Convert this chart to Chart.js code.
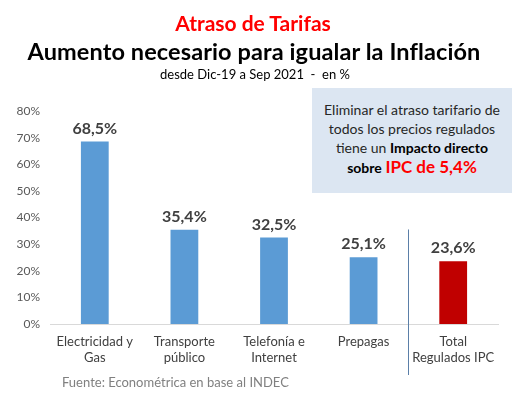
<!DOCTYPE html>
<html>
<head>
<meta charset="utf-8">
<script src="https://cdn.jsdelivr.net/npm/chart.js@4/dist/chart.umd.min.js"></script>
<style>
  html, body { margin: 0; padding: 0; background: #ffffff; }
  #wrap { position: relative; width: 514px; height: 396px; overflow: hidden; font-family: Lato, "Open Sans", sans-serif; }
  #chart { position: absolute; left: 0; top: 0; }
  .t { position: absolute; left: 0; width: 514px; text-align: center; white-space: nowrap; }
  #t1 { top: 10px; left: -4px; font-size: 21px; font-weight: bold; color: #ff0000; }
  #t2 { top: 37px; left: -3px; font-size: 23.5px; font-weight: bold; color: #000000; letter-spacing: 0.1px; }
  #t3 { top: 66px; left: -2px; font-size: 13px; color: #000000; }
  #box { position: absolute; left: 312px; top: 88px; width: 200px; height: 105px; background: #dce6f2; text-align: center; color: #262626; font-size: 14px; line-height: 19px; box-sizing: border-box; padding-top: 12px; }
  #box .big { font-size: 17px; color: #ff0000; font-weight: bold; }
  #box b { color: #000; }
  #foot { position: absolute; left: 62px; top: 374px; font-size: 13px; color: #808080; white-space: nowrap; }
</style>
</head>
<body>
<div id="wrap">
  <canvas id="chart" width="514" height="396"></canvas>
  <div class="t" id="t1">Atraso de Tarifas</div>
  <div class="t" id="t2">Aumento necesario para igualar la Inflación</div>
  <div class="t" id="t3">desde Dic-19 a Sep 2021&nbsp;&nbsp;-&nbsp;&nbsp;en %</div>
  <div id="box">Eliminar el atraso tarifario de<br>todos los precios regulados<br>tiene un <b>Impacto directo</b><br><b>sobre</b> <span class="big">IPC de 5,4%</span></div>
  <div id="foot">Fuente: Econométrica en base al INDEC</div>
</div>
<script>
const categories = [["Electricidad y", "Gas"], ["Transporte", "público"], ["Telefonía e", "Internet"], ["Prepagas"], ["Total", "Regulados IPC"]];
const values = [68.5, 35.4, 32.5, 25.1, 23.6];
const valueLabels = ["68,5%", "35,4%", "32,5%", "25,1%", "23,6%"];
const barColors = ["#5b9bd5", "#5b9bd5", "#5b9bd5", "#5b9bd5", "#c00000"];
const yTicks = [0, 10, 20, 30, 40, 50, 60, 70, 80];
const dividerTop = 35.5; // value level where the separator line begins

const FONT = 'Lato, "Open Sans", sans-serif';

const extras = {
  id: 'extras',
  afterDatasetsDraw(chart) {
    const ctx = chart.ctx;
    const meta = chart.getDatasetMeta(0);
    ctx.save();
    ctx.font = 'bold 16px ' + FONT;
    ctx.fillStyle = '#404040';
    ctx.textAlign = 'center';
    ctx.textBaseline = 'bottom';
    meta.data.forEach((bar, i) => {
      ctx.fillText(valueLabels[i], bar.x, bar.y - 5);
    });
    // separator between Prepagas and Total
    const xs = chart.scales.x, ys = chart.scales.y;
    const x = Math.round((xs.getPixelForValue(3) + xs.getPixelForValue(4)) / 2) + 0.5;
    ctx.strokeStyle = '#5b7fa8';
    ctx.lineWidth = 1;
    ctx.beginPath();
    ctx.moveTo(x, ys.getPixelForValue(dividerTop));
    ctx.lineTo(x, chart.chartArea.bottom + 51);
    ctx.stroke();
    ctx.restore();
  }
};

new Chart(document.getElementById('chart'), {
  type: 'bar',
  data: {
    labels: categories,
    datasets: [{
      data: values,
      backgroundColor: barColors,
      barPercentage: 0.62,
      categoryPercentage: 0.5
    }]
  },
  options: {
    responsive: false,
    animation: false,
    devicePixelRatio: 1,
    layout: { padding: { left: 0, right: 16, top: 111, bottom: 0 } },
    plugins: { legend: { display: false }, tooltip: { enabled: false }, title: { display: false } },
    scales: {
      x: {
        grid: { display: false, drawTicks: false },
        border: { display: true, color: '#d9d9d9', width: 1 },
        ticks: { color: '#404040', font: { family: FONT, size: 13 }, padding: 10, maxRotation: 0, autoSkip: false },
        afterFit(s) { s.height = 72; }
      },
      y: {
        min: 0, max: 80,
        afterBuildTicks(s) { s.ticks = yTicks.map(v => ({ value: v })); },
        grid: { display: false, drawTicks: false },
        border: { display: false },
        ticks: { color: '#595959', font: { family: FONT, size: 12 }, padding: 10, callback: v => v + '%' },
        afterFit(s) { s.width = 50; }
      }
    }
  },
  plugins: [extras]
});
</script>
</body>
</html>
